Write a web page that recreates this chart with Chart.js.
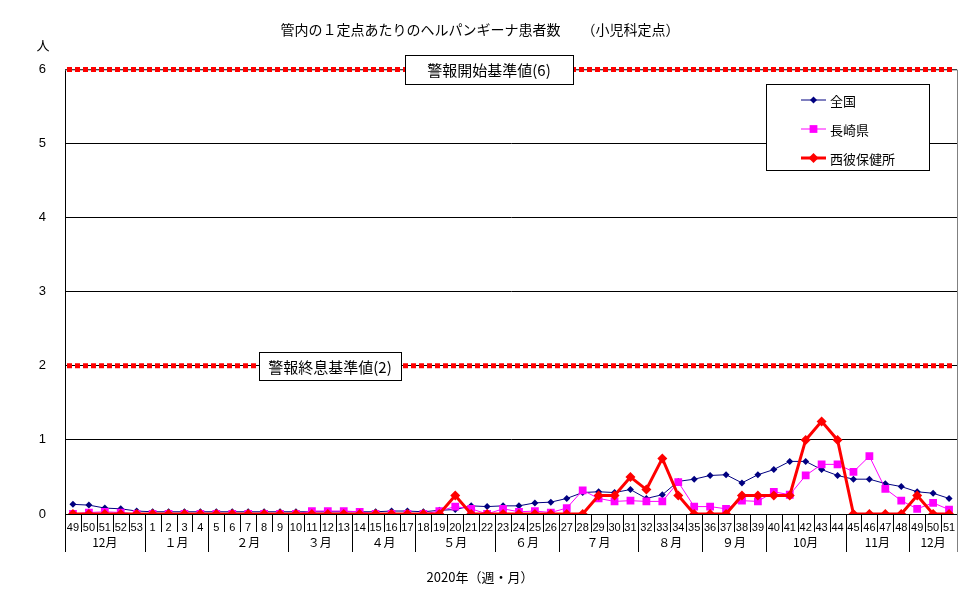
<!DOCTYPE html>
<html lang="ja">
<head>
<meta charset="utf-8">
<title>ヘルパンギーナ患者数</title>
<script src="https://cdn.jsdelivr.net/npm/chart.js@4.4.1/dist/chart.umd.min.js"></script>
<style>
  html, body { margin: 0; padding: 0; background: #fff; }
</style>
</head>
<body>
<canvas id="chart" width="977" height="600"></canvas>
<script>
// week numbers: 2019 wk49 - 2020 wk51
const weekLabels = ['49', '50', '51', '52', '53',
    '1', '2', '3', '4', '5', '6', '7', '8', '9', '10',
    '11', '12', '13', '14', '15', '16', '17', '18', '19', '20',
    '21', '22', '23', '24', '25', '26', '27', '28', '29', '30',
    '31', '32', '33', '34', '35', '36', '37', '38', '39', '40',
    '41', '42', '43', '44', '45', '46', '47', '48', '49', '50', '51'];

const monthLabels = ['12月', '１月', '２月', '３月', '４月', '５月', '６月', '７月', '８月', '９月', '10月', '11月', '12月'];
const monthSpans = [5, 4, 5, 4, 4, 5, 4, 5, 4, 4, 5, 4, 3];

const nationalValues = [0.13, 0.12, 0.08, 0.07, 0.04,
    0.03, 0.03, 0.03, 0.03, 0.03, 0.03, 0.03, 0.03, 0.03, 0.03,
    0.03, 0.03, 0.03, 0.03, 0.03, 0.04, 0.04, 0.03, 0.05, 0.06,
    0.11, 0.10, 0.11, 0.11, 0.15, 0.16, 0.21, 0.29, 0.30, 0.29,
    0.33, 0.21, 0.26, 0.44, 0.47, 0.52, 0.53, 0.42, 0.53, 0.60,
    0.71, 0.71, 0.60, 0.52, 0.47, 0.47, 0.41, 0.37, 0.30, 0.28, 0.21];

const nagasakiValues = [0, 0.02, 0.03, 0.02, 0,
    0, 0, 0, 0, 0, 0, 0, 0, 0, 0,
    0.04, 0.04, 0.04, 0.03, 0, 0, 0, 0, 0.04, 0.10,
    0.07, 0, 0.07, 0.03, 0.04, 0.02, 0.08, 0.32, 0.21, 0.17,
    0.18, 0.17, 0.17, 0.43, 0.10, 0.10, 0.07, 0.18, 0.17, 0.30,
    0.26, 0.52, 0.67, 0.67, 0.57, 0.78, 0.34, 0.18, 0.07, 0.15, 0.06];

const seihiValues = [0, 0, 0, 0, 0,
    0, 0, 0, 0, 0, 0, 0, 0, 0, 0,
    0, 0, 0, 0, 0, 0, 0, 0, 0, 0.25,
    0, 0, 0, 0, 0, 0, 0, 0, 0.25, 0.25,
    0.5, 0.33, 0.75, 0.25, 0, 0, 0, 0.25, 0.25, 0.25,
    0.25, 1, 1.25, 1, 0, 0, 0, 0, 0.25, 0, 0];

const yTicks = [0, 1, 2, 3, 4, 5, 6];

// alert thresholds and their captions
const alertLevels = [6, 2];
const alertCaptions = ['警報開始基準値(6)', '警報終息基準値(2)'];

const JP_FONT = "'Noto Sans CJK JP', sans-serif";
const NUM_FONT = "'Liberation Sans Narrow', 'Liberation Sans', sans-serif";

Chart.defaults.color = '#000';

const decorPlugin = {
    id: 'decor',
    beforeDatasetsDraw(chart) {
        const { ctx, chartArea: a, scales: { y } } = chart;
        ctx.save();
        // grey plot border (top, right)
        ctx.strokeStyle = '#808080';
        ctx.lineWidth = 1;
        ctx.beginPath();
        ctx.moveTo(a.left, a.top + 0.5);
        ctx.lineTo(a.right + 0.5, a.top + 0.5);
        ctx.lineTo(a.right + 0.5, 552);
        ctx.stroke();

        // red dotted threshold lines
        ctx.strokeStyle = '#ff0000';
        ctx.lineWidth = 5;
        ctx.setLineDash([5, 3]);
        alertLevels.forEach(v => {
            const py = y.getPixelForValue(v);
            ctx.beginPath();
            ctx.moveTo(a.left + 2, py);
            ctx.lineTo(a.right - 2, py);
            ctx.stroke();
        });
        ctx.restore();
    },
    afterDraw(chart) {
        const { ctx, chartArea: a, scales: { x, y } } = chart;
        ctx.save();

        // threshold caption boxes
        const boxes = [
            { cx: 489, w: 168, h: 29 },
            { cx: 330, w: 142, h: 28 }
        ];
        ctx.font = '15px ' + JP_FONT;
        ctx.textAlign = 'center';
        ctx.textBaseline = 'middle';
        alertLevels.forEach((v, i) => {
            const py = y.getPixelForValue(v);
            const b = boxes[i];
            const bx = Math.round(b.cx - b.w / 2) + 0.5;
            const by = Math.round(py - b.h / 2) + 0.5;
            ctx.fillStyle = '#fff';
            ctx.fillRect(bx, by, b.w, b.h);
            ctx.strokeStyle = '#000';
            ctx.lineWidth = 1;
            ctx.strokeRect(bx, by, b.w, b.h);
            ctx.fillStyle = '#000';
            ctx.fillText(alertCaptions[i], b.cx, py + 1);
        });

        // legend box
        const lx = 766.5, ly = 84.5, lw = 163, lh = 86;
        ctx.fillStyle = '#fff';
        ctx.fillRect(lx, ly, lw, lh);
        ctx.strokeStyle = '#000';
        ctx.lineWidth = 1;
        ctx.strokeRect(lx, ly, lw, lh);
        const rows = [100, 129, 158];
        ctx.textAlign = 'left';
        ctx.font = '13px ' + JP_FONT;
        chart.data.datasets.forEach((ds, i) => {
            const ry = rows[i];
            ctx.strokeStyle = ds.borderColor;
            ctx.lineWidth = ds.borderWidth;
            ctx.beginPath();
            ctx.moveTo(801, ry);
            ctx.lineTo(826, ry);
            ctx.stroke();
            ctx.fillStyle = ds.pointBackgroundColor;
            Chart.helpers.drawPoint(ctx, {
                pointStyle: ds.pointStyle,
                radius: ds.pointRadius,
                borderWidth: 0
            }, 813.5, ry);
            ctx.fillStyle = '#000';
            ctx.fillText(ds.label, 830, ry + 1);
        });

        // week separators and month row
        const bottom = a.bottom;
        ctx.strokeStyle = '#000';
        ctx.lineWidth = 1;
        ctx.beginPath();
        for (let i = 1; i <= weekLabels.length; i++) {
            const px = Math.round((x.getPixelForValue(i - 1) + x.getPixelForValue(Math.min(i, weekLabels.length - 1))) / 2) + 0.5;
            const edge = i === weekLabels.length ? Math.round(a.right) + 0.5 : px;
            ctx.moveTo(edge, bottom);
            ctx.lineTo(edge, bottom + 18);
        }
        ctx.moveTo(Math.round(a.left) + 0.5, bottom);
        ctx.lineTo(Math.round(a.left) + 0.5, 552);
        ctx.stroke();

        const half = (x.getPixelForValue(1) - x.getPixelForValue(0)) / 2;
        ctx.font = '12px ' + JP_FONT;
        ctx.textAlign = 'center';
        ctx.fillStyle = '#000';
        let start = 0;
        monthSpans.forEach((span, i) => {
            const left = x.getPixelForValue(start) - half;
            const right = x.getPixelForValue(start + span - 1) + half;
            const rx = Math.round(right) + 0.5;
            ctx.beginPath();
            ctx.moveTo(rx, bottom);
            ctx.lineTo(rx, 552);
            ctx.strokeStyle = i === monthSpans.length - 1 ? '#808080' : '#000';
            ctx.stroke();
            ctx.fillText(monthLabels[i], (left + right) / 2, 542);
            start += span;
        });

        // titles
        ctx.font = '14px ' + JP_FONT;
        ctx.fillText('管内の１定点あたりのヘルパンギーナ患者数　　（小児科定点）', 480, 30);
        ctx.font = '13px ' + JP_FONT;
        ctx.fillText('2020年（週・月）', 480, 577);
        ctx.fillText('人', 43, 45);
        ctx.restore();
    }
};

new Chart(document.getElementById('chart'), {
    type: 'line',
    data: {
        labels: weekLabels,
        datasets: [
            {
                label: '全国',
                data: nationalValues,
                borderColor: '#000080',
                backgroundColor: '#000080',
                pointBackgroundColor: '#000080',
                pointBorderWidth: 0,
                borderWidth: 1,
                pointStyle: 'rectRot',
                pointRadius: 3.5,
                order: 2
            },
            {
                label: '長崎県',
                data: nagasakiValues,
                borderColor: '#ff00ff',
                backgroundColor: '#ff00ff',
                pointBackgroundColor: '#ff00ff',
                pointBorderWidth: 0,
                borderWidth: 1,
                pointStyle: 'rect',
                pointRadius: 5.5,
                order: 1
            },
            {
                label: '西彼保健所',
                data: seihiValues,
                borderColor: '#ff0000',
                backgroundColor: '#ff0000',
                pointBackgroundColor: '#ff0000',
                pointBorderWidth: 0,
                borderWidth: 3,
                pointStyle: 'rectRot',
                pointRadius: 5,
                order: 0
            }
        ]
    },
    options: {
        responsive: false,
        animation: false,
        devicePixelRatio: 1,
        layout: { padding: { top: 69.5, right: 20, left: 0, bottom: 0 } },
        plugins: {
            legend: { display: false },
            title: { display: false },
            tooltip: { enabled: false }
        },
        scales: {
            x: {
                offset: true,
                grid: { display: false },
                border: { display: false },
                ticks: {
                    autoSkip: false,
                    maxRotation: 0,
                    padding: -1,
                    font: { family: NUM_FONT, size: 11 }
                },
                afterFit(scale) { scale.height = 86; }
            },
            y: {
                min: 0,
                max: 6,
                afterBuildTicks(scale) { scale.ticks = yTicks.map(v => ({ value: v })); },
                grid: { color: '#000', lineWidth: 1, drawTicks: false },
                border: { color: '#000' },
                ticks: {
                    padding: 19,
                    font: { family: NUM_FONT, size: 13 }
                },
                afterFit(scale) { scale.width = 65; }
            }
        }
    },
    plugins: [decorPlugin]
});
</script>
</body>
</html>
